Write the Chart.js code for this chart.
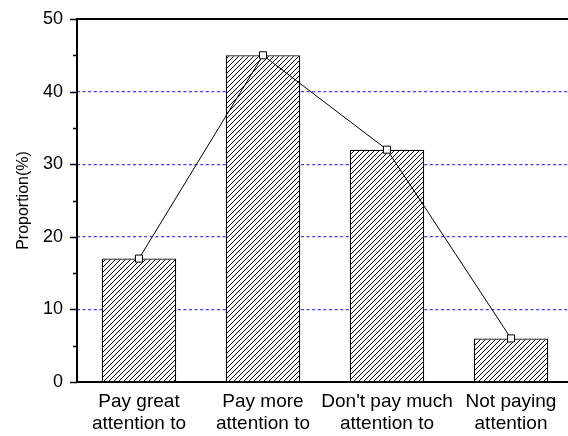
<!DOCTYPE html>
<html>
<head>
<meta charset="utf-8">
<script src="https://cdn.jsdelivr.net/npm/chart.js@4/dist/chart.umd.min.js"></script>
<style>
  html, body { margin: 0; padding: 0; background: #fff; overflow: hidden; width: 568px; height: 436px; }
  #wrap { width: 568px; height: 436px; overflow: hidden; position: relative; }
  #c { position: absolute; left: 0; top: 0; }
</style>
</head>
<body>
<div id="wrap"><canvas id="c" width="580" height="436" style="width:580px;height:436px"></canvas></div>
<script>
// Attention categories and the share of respondents in each (%)
const categories = [
  ['Pay great', 'attention to'],
  ['Pay more', 'attention to'],
  ["Don't pay much", 'attention to'],
  ['Not paying', 'attention']
];
const proportions = [17, 45, 32, 6];
const yTicks = [0, 10, 20, 30, 40, 50];

// Diagonal "///" hatch fill for the bars
function makeHatch() {
  const s = 5;
  const p = document.createElement('canvas');
  p.width = s; p.height = s;
  const g = p.getContext('2d');
  g.fillStyle = '#fff';
  g.fillRect(0, 0, s, s);
  g.strokeStyle = '#000';
  g.lineWidth = 1;
  g.beginPath();
  g.moveTo(-1, s + 1); g.lineTo(s + 1, -1);
  g.moveTo(-1, 1); g.lineTo(1, -1);
  g.moveTo(s - 1, s + 1); g.lineTo(s + 1, s - 1);
  g.stroke();
  return g.createPattern(p, 'repeat');
}

// Axis frame plus major/minor tick marks on the value axis
const framePlugin = {
  id: 'frame',
  afterDatasetsDraw(chart) {
    const { ctx, chartArea: a, scales: { y } } = chart;
    ctx.save();
    ctx.strokeStyle = '#000';
    ctx.lineWidth = 2;
    ctx.beginPath();
    ctx.moveTo(a.left, a.top); ctx.lineTo(a.right + 2, a.top);
    ctx.moveTo(a.left, a.top - 1); ctx.lineTo(a.left, a.bottom + 1);
    ctx.moveTo(a.left - 1, a.bottom); ctx.lineTo(a.right + 2, a.bottom);
    ctx.stroke();
    ctx.lineWidth = 1.5;
    ctx.beginPath();
    y.ticks.forEach(t => {
      const py = Math.round(y.getPixelForValue(t.value)) + 0.5;
      const len = yTicks.includes(t.value) ? 7 : 4;
      ctx.moveTo(a.left - len, py);
      ctx.lineTo(a.left, py);
    });
    ctx.stroke();
    ctx.restore();
  }
};

const font = { family: 'Arial, "Liberation Sans", sans-serif' };

new Chart(document.getElementById('c'), {
  data: {
    labels: categories,
    datasets: [
      {
        type: 'line',
        data: proportions,
        borderColor: '#000',
        borderWidth: 1,
        pointStyle: 'rect',
        pointRadius: 5,
        pointBackgroundColor: '#fff',
        pointBorderColor: '#000',
        pointBorderWidth: 1,
        tension: 0,
        order: 0
      },
      {
        type: 'bar',
        data: proportions,
        backgroundColor: makeHatch(),
        borderColor: '#000',
        borderWidth: 1.2,
        barPercentage: 0.6,
        categoryPercentage: 1,
        order: 1
      }
    ]
  },
  options: {
    responsive: false,
    animation: false,
    layout: { padding: { top: 19, right: 7, left: 0, bottom: 0 } },
    plugins: { legend: { display: false }, tooltip: { enabled: false } },
    scales: {
      x: {
        grid: { display: false, drawTicks: false },
        border: { display: false },
        ticks: {
          color: '#000',
          padding: 8,
          maxRotation: 0,
          autoSkip: false,
          font: { ...font, size: 19, lineHeight: 1.2 }
        },
        afterFit(s) { s.height = 54; }
      },
      y: {
        min: 0,
        max: 50,
        grid: {
          drawTicks: false,
          lineWidth: 1.3,
          color: c => (c.tick && [10, 20, 30, 40].includes(c.tick.value)) ? '#3c3cff' : 'rgba(0,0,0,0)'
        },
        border: { display: false, dash: [3, 2.6] },
        ticks: {
          stepSize: 5,
          color: '#000',
          padding: 14,
          font: { ...font, size: 18 },
          callback: v => yTicks.includes(v) ? String(v) : ''
        },
        title: {
          display: true,
          text: 'Proportion(%)',
          color: '#000',
          font: { ...font, size: 16 },
          padding: { top: 14, bottom: 0 }
        },
        afterFit(s) {
          s.width = 77;
          s.paddingTop = 0;
          s.paddingBottom = 0;
        }
      }
    }
  },
  plugins: [framePlugin]
});
</script>
</body>
</html>
